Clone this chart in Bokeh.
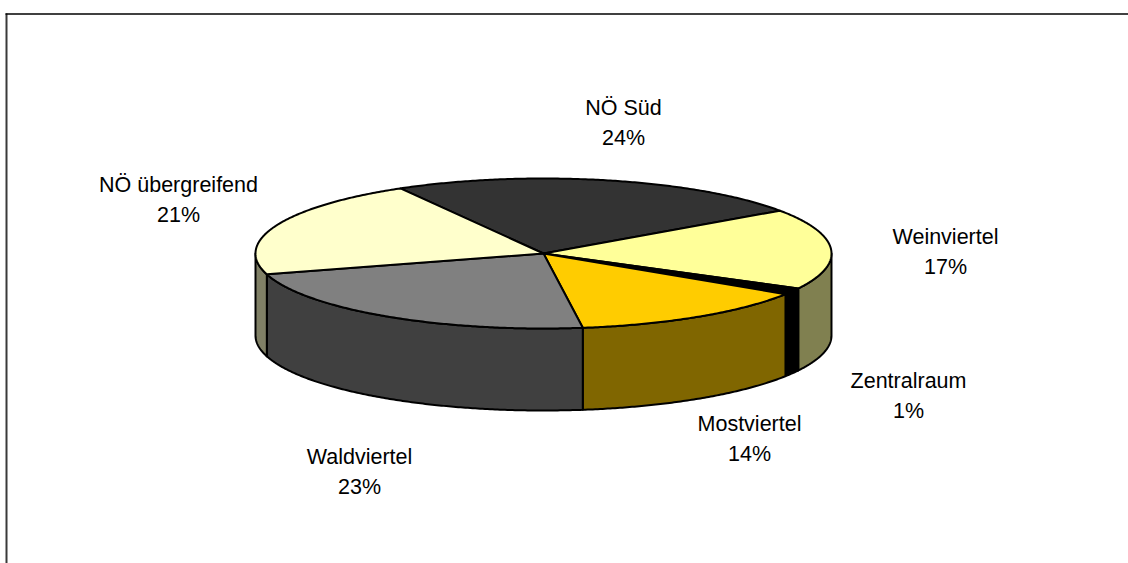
import math
from bokeh.plotting import figure
from bokeh.embed import file_html
from bokeh.resources import INLINE
from bokeh.core.properties import value

# Data
categories = ["NÖ Süd", "Weinviertel", "Zentralraum", "Mostviertel", "Waldviertel", "NÖ übergreifend"]
percent_labels = ["24%", "17%", "1%", "14%", "23%", "21%"]
shares = [23.6, 17.4, 1.4, 13.7, 22.7, 21.2]
top_colors = ["#333333", "#FFFF99", "#000000", "#FFCC00", "#808080", "#FFFFCC"]
side_colors = ["#1A1A1A", "#808050", "#000000", "#806600", "#404040", "#808066"]

# Layout (pixels in the reference)
W, H = 1128, 563
CX, CY, RX, RY, DEPTH = 543, 253, 288, 75, 82
START_DEG = -29.8
label_centres = [(623, 107), (945, 236), (908, 380), (749, 423), (359, 456), (178, 184)]
LINE_GAP = 30


def pt(deg):
    a = math.radians(deg)
    return CX + RX * math.sin(a), CY - RY * math.cos(a)


def arc(a0, a1):
    n = max(2, int(abs(a1 - a0) * 2) + 1)
    return [pt(a0 + (a1 - a0) * i / (n - 1)) for i in range(n)]


p = figure(width=W, height=H, x_range=(0, W), y_range=(H, 0), toolbar_location=None,
           output_backend="svg", min_border=0, outline_line_color=None,
           background_fill_color="white", border_fill_color="white")
p.margin = (0, 0, 0, 0)
p.axis.visible = False
p.grid.visible = False

# chart frame (only the left and top rules show in the reference)
p.line([6, 6], [13, H], line_color="#3a3a3a", line_width=2)
p.line([5, W], [13.5, 13.5], line_color="#000000", line_width=1.5)

# slices
bounds = []
a = START_DEG
for s in shares:
    b = a + s * 3.6
    bounds.append((a, b))
    a = b

# walls: only the front half (90..270 deg) is visible
for (a0, b0), col in zip(bounds, side_colors):
    for shift in (0, 360):
        lo, hi = max(a0 + shift, 90), min(b0 + shift, 270)
        if hi > lo:
            top = arc(lo, hi)
            xs = [q[0] for q in top] + [q[0] for q in reversed(top)]
            ys = [q[1] for q in top] + [q[1] + DEPTH for q in reversed(top)]
            p.patch(xs, ys, fill_color=col, line_color="black", line_width=2, line_join="round")

# top faces
for (a0, b0), col in zip(bounds, top_colors):
    rim = arc(a0, b0)
    xs = [CX] + [q[0] for q in rim]
    ys = [CY] + [q[1] for q in rim]
    p.patch(xs, ys, fill_color=col, line_color="black", line_width=2, line_join="round")

# labels
font = value("Liberation Sans")
p.text([c[0] for c in label_centres], [c[1] for c in label_centres], text=categories,
       text_font=font, text_font_size="21.5px", text_color="#000000",
       text_align="center", text_baseline="middle")
p.text([c[0] for c in label_centres], [c[1] + LINE_GAP for c in label_centres],
       text=percent_labels,
       text_font=font, text_font_size="21.5px", text_color="#000000",
       text_align="center", text_baseline="middle")

open("out.html", "w").write(file_html(p, INLINE))
